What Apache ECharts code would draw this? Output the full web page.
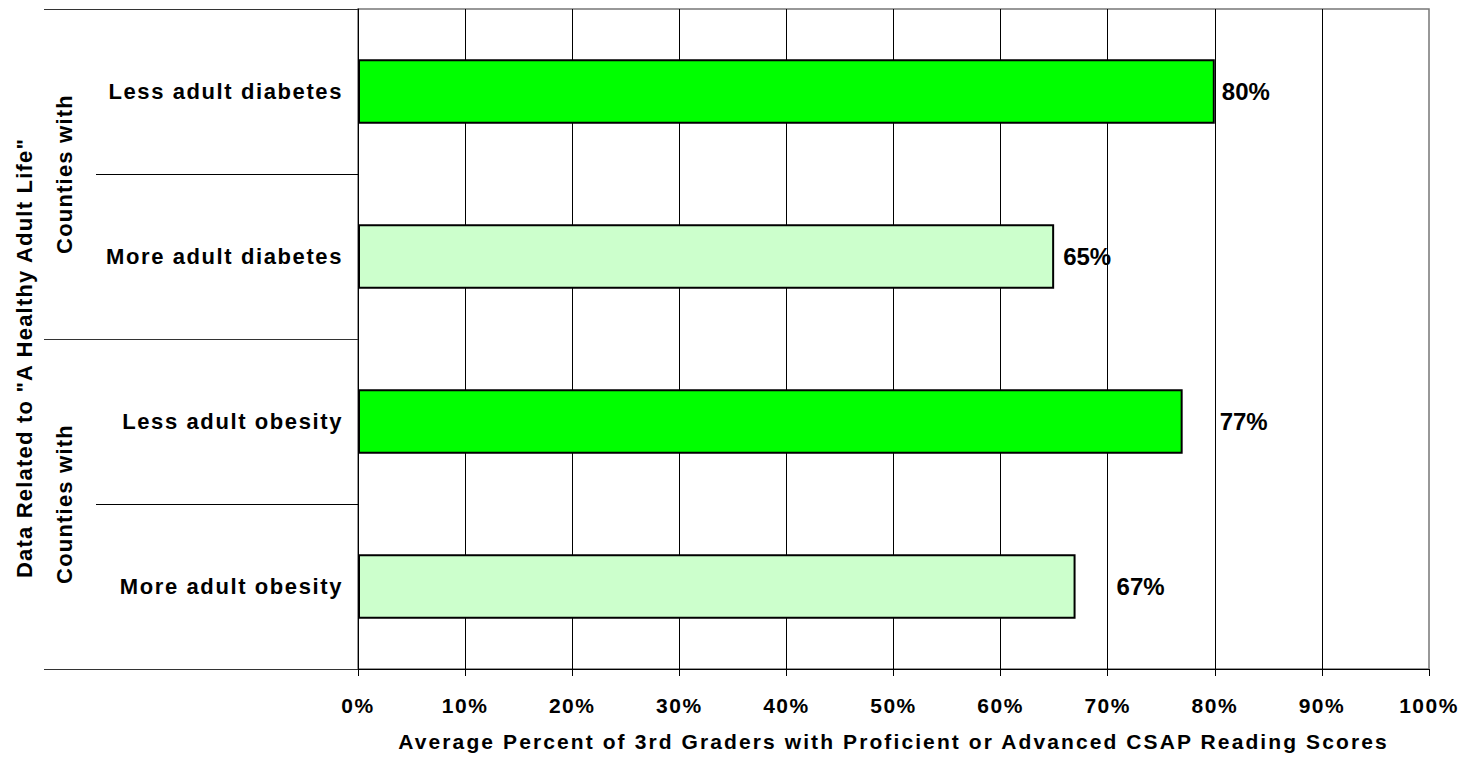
<!DOCTYPE html>
<html><head><meta charset="utf-8">
<script src="https://cdn.jsdelivr.net/npm/echarts@6/dist/echarts.min.js"></script>
<style>html,body{margin:0;padding:0;background:#fff}#main{width:1467px;height:761px}</style>
</head><body><div id="main"></div>
<script>
// ---- data ----
const categories = ['Less adult diabetes', 'More adult diabetes', 'Less adult obesity', 'More adult obesity'];
const values = [80, 65, 77, 67];
const groups = ['Counties with', 'Counties with'];
const outerTitle = 'Data Related to "A Healthy Adult Life"';
const xTitle = 'Average Percent of 3rd Graders with Proficient or Advanced CSAP Reading Scores';

// ---- styling ----
const FONT = "'Liberation Sans', Arial, sans-serif";
const fills = ['#00FF00', '#CCFFCC', '#00FF00', '#CCFFCC'];
const labelGaps = [7, 9, 37, 41];

const chart = echarts.init(document.getElementById('main'), null, { renderer: 'svg' });
const option = {
  animation: false,
  backgroundColor: '#fff',
  textStyle: { fontFamily: FONT, color: '#000' },
  grid: {
    left: 358, right: 38, top: 9, bottom: 92,
    show: true, borderColor: '#777', borderWidth: 1.5, backgroundColor: 'transparent',
    containLabel: false, outerBoundsMode: 'none'
  },
  xAxis: {
    type: 'value', min: 0, max: 100, interval: 10,
    axisLine: { show: true, lineStyle: { color: '#000', width: 1 } },
    axisTick: { show: true, length: 7, lineStyle: { color: '#000', width: 1 } },
    axisLabel: { formatter: '{value}%', fontSize: 21, fontWeight: 'bold', color: '#000', margin: 26, fontFamily: FONT },
    splitLine: { show: true, showMaxLine: false, lineStyle: { color: '#000', width: 1 } },
    name: xTitle, nameLocation: 'middle', nameGap: 62,
    nameTextStyle: { fontSize: 21, fontWeight: 'bold', color: '#000', fontFamily: FONT }
  },
  yAxis: [
    {
      type: 'category', data: categories, inverse: true, position: 'left',
      axisLine: { show: true, lineStyle: { color: '#000', width: 1 } },
      axisTick: { show: true, length: 262, lineStyle: { color: '#000', width: 1 } },
      axisLabel: { fontSize: 22, fontWeight: 'bold', color: '#000', margin: 15, interval: 0, fontFamily: FONT },
      splitLine: { show: false }
    },
    {
      type: 'category', data: groups, inverse: true, position: 'left',
      axisLine: { show: false },
      axisTick: { show: true, length: 314, lineStyle: { color: '#333', width: 1 } },
      axisLabel: { rotate: 90, margin: 283, fontSize: 22, fontWeight: 'bold', color: '#000', interval: 0, fontFamily: FONT },
      splitLine: { show: false }
    }
  ],
  graphic: [{
    type: 'text', x: 24, y: 358, rotation: Math.PI / 2,
    style: { text: outerTitle, font: "bold 22px " + FONT, fill: '#000', align: 'center', verticalAlign: 'middle' }
  }],
  series: [{
    type: 'bar', yAxisIndex: 0, xAxisIndex: 0, barWidth: '39%',
    itemStyle: { borderColor: '#000', borderWidth: 2 },
    label: { show: true, position: 'right', formatter: '{c}%', fontSize: 24, fontWeight: 'bold', color: '#000', fontFamily: FONT },
    data: values.map((v, i) => ({ value: v, itemStyle: { color: fills[i] }, label: { distance: labelGaps[i] } }))
  }]
};
chart.setOption(option);

function applySpacing() {
  document.querySelectorAll('#main text').forEach(t => {
    const txt = t.textContent.trim();
    const fs = parseFloat(getComputedStyle(t).fontSize);
    let ls = 0;
    if (txt === xTitle) ls = 2.1;
    else if (categories.includes(txt)) ls = 1.6;
    else if (txt === outerTitle || groups.includes(txt)) ls = 1.2;
    else if (fs < 23) ls = 1.5;
    t.style.letterSpacing = ls + 'px';
  });
}
applySpacing();
chart.on('finished', applySpacing);
setTimeout(applySpacing, 50);
</script>
</body></html>
